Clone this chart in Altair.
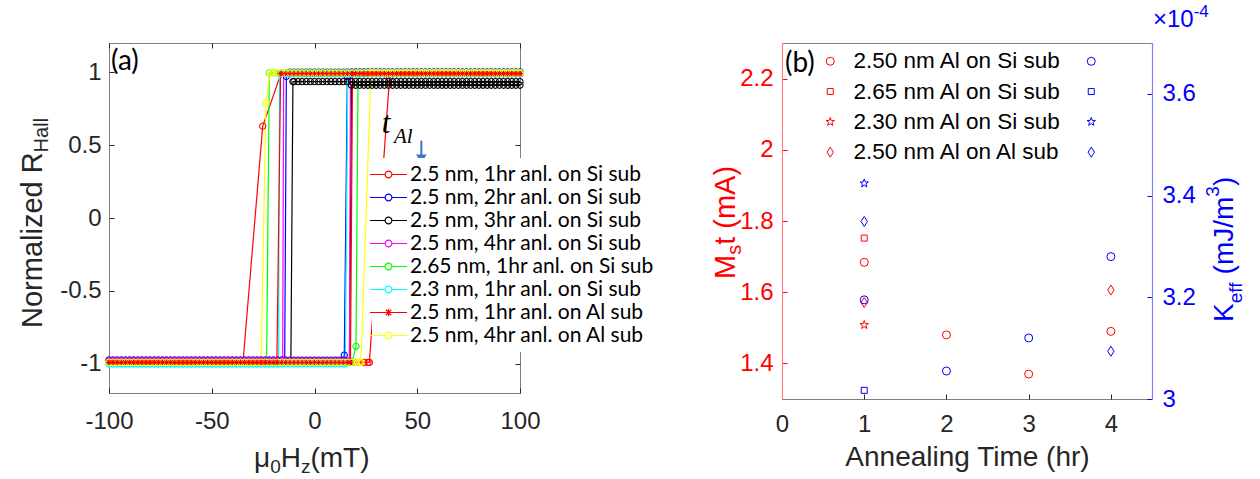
import altair as alt
import pandas as pd

# ---------------- Panel (a): normalized Hall loops ----------------
SERIES_A = ["2.5 nm, 1hr anl. on Si sub", "2.5 nm, 2hr anl. on Si sub", "2.5 nm, 3hr anl. on Si sub",
            "2.5 nm, 4hr anl. on Si sub", "2.65 nm, 1hr anl. on Si sub", "2.3 nm, 1hr anl. on Si sub",
            "2.5 nm, 1hr anl. on Al sub", "2.5 nm, 4hr anl. on Al sub"]
COLORS_A = ["#ff0000", "#0000ff", "#000000", "#ff00ff", "#00ff00", "#00ffff", "#ff0000", "#ffff00"]
TOP_DOWN = [0.99, 1.0, 0.935, 0.99, 0.995, 0.99, 0.99, 0.995]
TOP_UP = [0.99, 1.0, 0.91, 0.99, 0.995, 0.99, 0.99, 0.995]
BOTTOM = [-0.99, -0.975, -0.99, -0.98, -0.99, -1.0, -0.99, -0.99]
SWITCH_DOWN = [
    [(-16.3, 0.99), (-25.2, 0.63), (-34.8, -0.99)],
    [(-13.7, 0.97), (-14.5, -0.975)],
    [(-10.5, 0.935), (-11.5, -0.99)],
    [(-15.0, 0.99), (-15.5, -0.98)],
    [(-22.0, 0.995), (-23.3, -0.99)],
    [(-17.0, 0.99), (-17.5, -1.0)],
    [(-16.5, 0.99), (-18.3, -0.99)],
    [(-21.7, 0.995), (-23.6, 0.79), (-26.0, -0.99)],
]
SWITCH_UP = [
    [(26.7, -0.99), (36.5, 0.96)],
    [(14.5, -0.94), (16.0, 0.97)],
    [(17.0, -0.99), (18.0, 0.91)],
    [(17.0, -0.98), (17.5, 0.99)],
    [(18.2, -0.99), (20.2, -0.88), (21.2, 0.995)],
    [(15.0, -1.0), (16.2, 0.99)],
    [(17.5, -0.99), (18.5, 0.99)],
    [(22.6, -0.99), (27.5, 0.995)],
]
FIELD_STEPS = list(range(-100, 101, 2))   # sweep grid, mT

rows = []
for i, name in enumerate(SERIES_A):
    sd, su = SWITCH_DOWN[i], SWITCH_UP[i]
    path = [(h, TOP_DOWN[i]) for h in sorted(FIELD_STEPS, reverse=True) if h > sd[0][0]]
    path += sd
    path += [(h, BOTTOM[i]) for h in sorted(FIELD_STEPS, reverse=True) if h < sd[-1][0]]
    path += [(h, BOTTOM[i]) for h in FIELD_STEPS if h < su[0][0]]
    path += su
    path += [(h, TOP_UP[i]) for h in FIELD_STEPS if h > su[-1][0]]
    for j, (h, r) in enumerate(path):
        rows.append({"series": name, "sidx": i, "idx": j, "H": h, "R": r})
df_a = pd.DataFrame(rows)

ARROW = pd.DataFrame({"H": [52.0], "R": [0.53], "R2": [0.42]})
ARROW_HEAD = pd.DataFrame({"H": [52.0], "R": [0.405]})

# ---------------- Panel (b): Ms*t and Keff vs annealing time ----------------
SERIES_B = ["2.50 nm Al on Si sub", "2.65 nm Al on Si sub", "2.30 nm Al on Si sub", "2.50 nm Al on Al sub"]
B_SERIES = ["2.50 nm Al on Si sub"] * 4 + ["2.65 nm Al on Si sub", "2.30 nm Al on Si sub"] + ["2.50 nm Al on Al sub"] * 2
B_HOURS = [1, 2, 3, 4, 1, 1, 1, 4]
B_MST = [1.684, 1.48, 1.37, 1.49, 1.752, 1.508, 1.571, 1.606]
B_KEFF = [3.195, 3.055, 3.12, 3.28, 3.017, 3.424, 3.349, 3.094]
df_b = pd.DataFrame({"series": B_SERIES, "hours": B_HOURS, "mst": B_MST, "keff": B_KEFF})

SQUARE = "M-0.75,-0.75L0.75,-0.75L0.75,0.75L-0.75,0.75Z"
STAR = ("M0,-1.1L0.2645,-0.3641L1.0462,-0.3399L0.428,0.139L0.6466,0.8899L0,0.45"
        "L-0.6466,0.8899L-0.428,0.139L-1.0462,-0.3399L-0.2645,-0.3641Z")
DIAMOND = "M0,-1.25L0.8,0L0,1.25L-0.8,0Z"
SHAPES_B = ["circle", SQUARE, STAR, DIAMOND]

LEG_CIRCLE = "M-3,0L-0.55,0M0.55,0L3,0M-0.55,0A0.55,0.55,0,1,0,0.55,0A0.55,0.55,0,1,0,-0.55,0"
LEG_STAR = "M-3,0L3,0M0,-0.6L0,0.6M-0.45,-0.45L0.45,0.45M-0.45,0.45L0.45,-0.45"
ASTERISK = "M-1,0L1,0M0,-1L0,1M-0.7,-0.7L0.7,0.7M-0.7,0.7L0.7,-0.7"

FONT = "Liberation Sans"
DARK = "#262626"
FRAME = "#808080"
INWARD = {"expr": "-5"}

W = {' ': 278, '(': 333, ')': 333, '/': 278, '-': 333, '.': 278, 'A': 667, 'H': 722, 'J': 500, 'K': 667,
     'M': 833, 'N': 722, 'R': 722, 'T': 611, 'a': 556, 'b': 556, 'd': 556, 'e': 556, 'f': 278, 'g': 556,
     'h': 556, 'i': 222, 'l': 222, 'm': 833, 'n': 556, 'o': 556, 'r': 333, 's': 500, 't': 278, 'u': 556,
     'z': 500, 'μ': 576, '×': 584}
for d in "0123456789":
    W[d] = 556


def width(s, size):
    return sum(W.get(c, 556) for c in s) / 1000.0 * size


def text_layer(text, x, y, size, color=DARK, angle=0, align="left", baseline="alphabetic",
               font=FONT, style="normal"):
    return alt.Chart(pd.DataFrame({"label": [text]})).mark_text(
        align=align, baseline=baseline, angle=angle, font=font, fontSize=size,
        fontStyle=style, color=color
    ).encode(text="label:N", x=alt.value(x), y=alt.value(y))


def rich_h(frags, x0, y0, color=DARK):
    out, x = [], x0
    for s, size, shift in frags:
        lead = len(s) - len(s.lstrip())
        x += width(s[:lead], size)
        s = s.lstrip()
        out.append(text_layer(s, x, y0 + shift, size, color=color))
        x += width(s, size)
    return out


def rich_v(frags, xb, y0, color=DARK):
    out, y = [], y0
    for s, size, shift in frags:
        lead = len(s) - len(s.lstrip())
        y -= width(s[:lead], size)
        s = s.lstrip()
        out.append(text_layer(s, xb + shift, y, size, color=color, angle=270))
        y -= width(s, size)
    return out


# ---------------- build panel (a) ----------------
xa = alt.Scale(domain=[-100, 100], nice=False)
ya = alt.Scale(domain=[-1.2, 1.2], nice=False)
tick_common = dict(tickSize=INWARD, tickColor=DARK, tickWidth=1, grid=False, title=None, domain=False)

legend_a = alt.Legend(
    orient="none", legendX=263, legendY=115, title=None,
    symbolType={"expr": "datum.value === '" + SERIES_A[6] + "' ? '" + LEG_STAR + "' : '" + LEG_CIRCLE + "'"},
    symbolSize=152, symbolStrokeWidth=1.2, labelFont="Lato", labelFontSize=21, labelColor="#000000",
    labelOffset=11, rowPadding=1, padding=6, fillColor="white", labelLimit=500,
)

lines = alt.Chart(df_a).mark_line(strokeWidth=1.2).encode(
    x=alt.X("H:Q", scale=xa, axis=alt.Axis(values=[-100, -50, 0, 50, 100], labelExpr="'' + datum.value",
                                           labelFont=FONT, labelFontSize=24, labelColor=DARK,
                                           labelPadding=21, labelFlush=False, **tick_common)),
    y=alt.Y("R:Q", scale=ya, axis=alt.Axis(values=[-1, -0.5, 0, 0.5, 1], labelExpr="'' + datum.value",
                                           labelFont=FONT, labelFontSize=24, labelColor=DARK,
                                           labelPadding=13, **tick_common)),
    color=alt.Color("series:N", scale=alt.Scale(domain=SERIES_A, range=COLORS_A), legend=legend_a),
    detail="series:N",
    order="idx:Q",
)

points = alt.Chart(df_a).transform_filter(alt.datum.series != SERIES_A[6]).mark_point(
    size=38, strokeWidth=1.1, filled=False, opacity=1
).encode(
    x=alt.X("H:Q", axis=alt.Axis(orient="top", values=[-100, -50, 0, 50, 100], labels=False, **tick_common)),
    y=alt.Y("R:Q", axis=alt.Axis(orient="right", values=[-1, -0.5, 0, 0.5, 1], labels=False, **tick_common)),
    color=alt.Color("series:N", scale=alt.Scale(domain=SERIES_A, range=COLORS_A), legend=None),
    order=alt.Order("sidx:Q"),
)

stars = alt.Chart(df_a).transform_filter(alt.datum.series == SERIES_A[6]).mark_point(
    shape=ASTERISK, size=28, strokeWidth=1, filled=False, color="#ff0000", opacity=1
).encode(x=alt.X("H:Q", axis=None), y=alt.Y("R:Q", axis=None))

arrow = alt.Chart(ARROW).mark_rule(color="#4472c4", strokeWidth=2).encode(
    x=alt.X("H:Q", axis=None), y=alt.Y("R:Q", axis=None), y2="R2:Q")
arrow_head = alt.Chart(ARROW_HEAD).mark_point(shape="triangle-down", filled=True, size=110,
                                               color="#4472c4", opacity=1).encode(
    x=alt.X("H:Q", axis=None), y=alt.Y("R:Q", axis=None))

texts_a = [
    text_layer("(a)", 2, 27, 28, color="#000000", font="Lato"),
    text_layer("t", 277, 90, 31, color="#000000", align="center", font="Liberation Serif", style="italic"),
    text_layer("Al", 285, 100, 21, color="#000000", font="Liberation Serif", style="italic"),
]
texts_a += rich_v([("Normalized R", 29, 0), ("Hall", 20, 6)], -67, 285)
texts_a += rich_h([("μ", 28, 0), ("0", 19, 6), ("H", 28, 0), ("z", 19, 6), ("(mT)", 28, 0)], 145, 424)

panel_a = alt.layer(lines, points, stars, arrow, arrow_head, *texts_a).resolve_axis(
    x="independent", y="independent").properties(width=411, height=350)

# ---------------- build panel (b) ----------------
xb = alt.Scale(domain=[0, 4.5], nice=False)

legend_red = alt.Legend(orient="none", legendX=37, legendY=7, title=None, symbolSize=64,
                        symbolStrokeColor="#ff0000", symbolStrokeWidth=1, labelFont=FONT, labelFontSize=22.5,
                        labelColor="#000000", labelOffset=12, rowPadding=7.3, padding=0, labelLimit=500)
legend_blue = alt.Legend(orient="none", legendX=298, legendY=7, title=None, symbolSize=64,
                         symbolStrokeColor="#0000ff", symbolStrokeWidth=1, labelExpr="''", labelFontSize=22.5,
                         labelOffset=0, rowPadding=7.3, padding=0)

red = alt.Chart(df_b).mark_point(filled=False, color="#ff0000", strokeWidth=1, size=64, opacity=1).encode(
    x=alt.X("hours:Q", scale=xb, axis=alt.Axis(values=[0, 1, 2, 3, 4], labelExpr="'' + datum.value",
                                               labelFont=FONT, labelFontSize=24,
                                               labelColor=DARK, labelPadding=18, labelFlush=False,
                                               tickSize=INWARD, tickColor=DARK, grid=False, domain=False,
                                               title="Annealing Time (hr)", titleFont=FONT, titleFontSize=28,
                                               titleFontWeight="normal", titleColor=DARK, titlePadding=7)),
    y=alt.Y("mst:Q", scale=alt.Scale(domain=[1.3, 2.3], nice=False, zero=False),
            axis=alt.Axis(values=[1.4, 1.6, 1.8, 2.0, 2.2], labelExpr="'' + datum.value", labelFont=FONT,
                          labelFontSize=24, labelColor="#ff0000", labelPadding=14, tickSize=INWARD,
                          tickColor="#ff0000", domainColor="#ff8080", domainWidth=1.2, grid=False, title=None)),
    shape=alt.Shape("series:N", scale=alt.Scale(domain=SERIES_B, range=SHAPES_B), legend=legend_red),
)

blue = alt.Chart(df_b).mark_point(filled=False, color="#0000ff", strokeWidth=1, size=64, opacity=1).encode(
    x=alt.X("hours:Q", scale=xb),
    y=alt.Y("keff:Q", scale=alt.Scale(domain=[3.0, 3.7], nice=False, zero=False),
            axis=alt.Axis(orient="right", values=[3.0, 3.2, 3.4, 3.6], labelExpr="'' + datum.value",
                          labelFont=FONT, labelFontSize=24, labelColor="#0000ff", labelPadding=15,
                          tickSize=INWARD, tickColor="#0000ff", domainColor="#8080ff", domainWidth=1.2,
                          grid=False, title=None)),
    shape=alt.Shape("series:N", scale=alt.Scale(domain=SERIES_B, range=SHAPES_B), legend=legend_blue),
)

texts_b = [text_layer("(b)", 3, 29, 28, color="#000000", font="Lato")]
texts_b += rich_v([("M", 29, 0), ("s", 20, 6), ("t (mA)", 29, 0)], -47, 236, color="#ff0000")
texts_b += rich_v([("K", 28, 0), ("eff", 19, 9), (" (mJ/m", 28, 0), ("3", 19, -14), (")", 28, 0)],
                  451, 279, color="#0000ff")
texts_b += rich_h([("×10", 24, 0), ("-4", 17, -10)], 371, -16, color="#0000ff")

panel_b = alt.layer(red, blue, *texts_b).resolve_scale(y="independent", shape="independent").resolve_legend(
    shape="independent").properties(width=370, height=356)

chart = alt.hconcat(panel_a, panel_b, spacing=262, bounds="flush").configure_view(
    stroke=FRAME, strokeWidth=1).properties(
    padding={"left": 18, "top": 2, "right": 5, "bottom": 5}, background="white")

chart.save("out.html", embed_options={"renderer": "svg", "actions": False})
